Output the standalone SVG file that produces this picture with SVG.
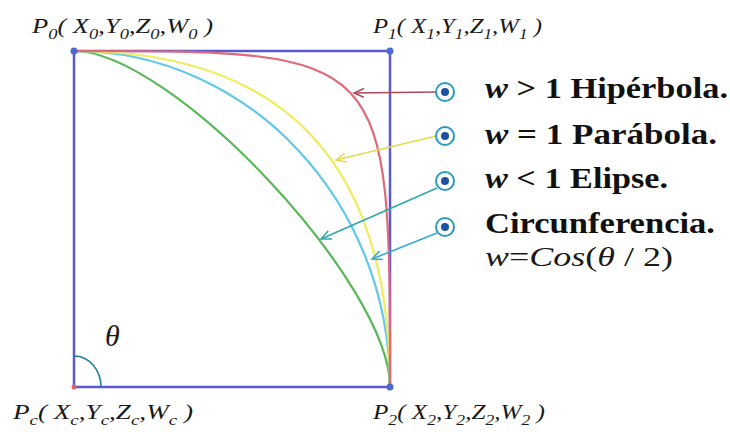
<svg xmlns="http://www.w3.org/2000/svg" width="730" height="432" viewBox="0 0 730 432">
<defs>
<style>
.lbl{font-family:"Liberation Serif","Times New Roman",serif;font-style:italic;font-size:20px;fill:#1a1a1a}
.sub{font-size:14px}
.leg{font-family:"Liberation Serif","Times New Roman",serif;font-weight:bold;font-size:30px;fill:#111}
.it{font-style:italic}
.frm{font-family:"Liberation Serif","Times New Roman",serif;font-size:28px;fill:#1a1a1a}
.curve{fill:none;stroke-width:2.2}
.conn{fill:none;stroke-width:1.6}
.ring{fill:#fff;stroke:#2a9bc0;stroke-width:2}
.dot{fill:#2050a0}
</style>
<marker id="mR" markerUnits="userSpaceOnUse" markerWidth="12" markerHeight="12" refX="10" refY="5" orient="auto"><path d="M0,0.5 L10,5 L0,9.5" fill="none" stroke="#b04858" stroke-width="1.5"/></marker>
<marker id="mY" markerUnits="userSpaceOnUse" markerWidth="12" markerHeight="12" refX="10" refY="5" orient="auto"><path d="M0,0.5 L10,5 L0,9.5" fill="none" stroke="#e0dc50" stroke-width="1.5"/></marker>
<marker id="mG" markerUnits="userSpaceOnUse" markerWidth="12" markerHeight="12" refX="10" refY="5" orient="auto"><path d="M0,0.5 L10,5 L0,9.5" fill="none" stroke="#30a8a8" stroke-width="1.5"/></marker>
<marker id="mC" markerUnits="userSpaceOnUse" markerWidth="12" markerHeight="12" refX="10" refY="5" orient="auto"><path d="M0,0.5 L10,5 L0,9.5" fill="none" stroke="#38a8d0" stroke-width="1.5"/></marker>
</defs>
<rect width="730" height="432" fill="#fff"/>

<g id="frame">
<rect x="74" y="51" width="316" height="336" fill="none" stroke="#5a5ad0" stroke-width="2.5"/>
<path d="M74,356 A27,31 0 0 1 101,387" fill="none" stroke="#2080a0" stroke-width="1.6"/>
<text x="105" y="346" font-family="'Liberation Serif','Times New Roman',serif" font-style="italic" font-size="30" fill="#1a1a1a">θ</text>
</g>

<g id="curves">
<path class="curve" stroke="#58b858" d="M74,51 C171.2,51 390,283.6 390,387"/>
<path class="curve" stroke="#60c8e8" d="M74,51 C248.5,51 390,201.4 390,387"/>
<path class="curve" stroke="#f0ec60" d="M74,51 Q390,51 390,387"/>
<path class="curve" stroke="#e06878" d="M74,51 C390,51 390,51 390,387"/>
</g>

<g id="P0">
<circle cx="74" cy="51" r="3.5" fill="#4a6ad0"/>
<text class="lbl" x="32" y="33" textLength="181" lengthAdjust="spacingAndGlyphs">P<tspan class="sub" dy="6">0</tspan><tspan dy="-6">( X</tspan><tspan class="sub" dy="6">0</tspan><tspan dy="-6">,Y</tspan><tspan class="sub" dy="6">0</tspan><tspan dy="-6">,Z</tspan><tspan class="sub" dy="6">0</tspan><tspan dy="-6">,W</tspan><tspan class="sub" dy="6">0</tspan><tspan dy="-6"> )</tspan></text>
</g>
<g id="P1">
<circle cx="390" cy="51" r="3.5" fill="#4a6ad0"/>
<text class="lbl" x="373" y="33" textLength="169" lengthAdjust="spacingAndGlyphs">P<tspan class="sub" dy="6">1</tspan><tspan dy="-6">( X</tspan><tspan class="sub" dy="6">1</tspan><tspan dy="-6">,Y</tspan><tspan class="sub" dy="6">1</tspan><tspan dy="-6">,Z</tspan><tspan class="sub" dy="6">1</tspan><tspan dy="-6">,W</tspan><tspan class="sub" dy="6">1</tspan><tspan dy="-6"> )</tspan></text>
</g>
<g id="Pc">
<circle cx="74" cy="387" r="2.5" fill="#e06070"/>
<text class="lbl" x="13" y="419" textLength="180" lengthAdjust="spacingAndGlyphs">P<tspan class="sub" dy="6">c</tspan><tspan dy="-6">( X</tspan><tspan class="sub" dy="6">c</tspan><tspan dy="-6">,Y</tspan><tspan class="sub" dy="6">c</tspan><tspan dy="-6">,Z</tspan><tspan class="sub" dy="6">c</tspan><tspan dy="-6">,W</tspan><tspan class="sub" dy="6">c</tspan><tspan dy="-6"> )</tspan></text>
</g>
<g id="P2">
<circle cx="390" cy="387" r="3.5" fill="#4a6ad0"/>
<text class="lbl" x="373" y="419" textLength="172" lengthAdjust="spacingAndGlyphs">P<tspan class="sub" dy="6">2</tspan><tspan dy="-6">( X</tspan><tspan class="sub" dy="6">2</tspan><tspan dy="-6">,Y</tspan><tspan class="sub" dy="6">2</tspan><tspan dy="-6">,Z</tspan><tspan class="sub" dy="6">2</tspan><tspan dy="-6">,W</tspan><tspan class="sub" dy="6">2</tspan><tspan dy="-6"> )</tspan></text>
</g>

<g id="connectors">
<path class="conn" stroke="#b04858" d="M436,92 L354,93" marker-end="url(#mR)"/>
<path class="conn" stroke="#e0dc50" d="M436,136 L336,160" marker-end="url(#mY)"/>
<path class="conn" stroke="#30a8a8" d="M437,188 L321,239" marker-end="url(#mG)"/>
<path class="conn" stroke="#38a8d0" d="M437,233 L372,259" marker-end="url(#mC)"/>
</g>

<g id="hiperbola">
<circle class="ring" cx="445" cy="92" r="9"/><circle class="dot" cx="445" cy="92" r="4"/>
<text class="leg" x="485" y="98" textLength="243" lengthAdjust="spacingAndGlyphs"><tspan class="it">w</tspan> &gt; 1 Hipérbola.</text>
</g>
<g id="parabola">
<circle class="ring" cx="445" cy="136" r="9"/><circle class="dot" cx="445" cy="136" r="4"/>
<text class="leg" x="485" y="144" textLength="232" lengthAdjust="spacingAndGlyphs"><tspan class="it">w</tspan> = 1 Parábola.</text>
</g>
<g id="elipse">
<circle class="ring" cx="445" cy="181" r="9"/><circle class="dot" cx="445" cy="181" r="4"/>
<text class="leg" x="485" y="188" textLength="183" lengthAdjust="spacingAndGlyphs"><tspan class="it">w</tspan> &lt; 1 Elipse.</text>
</g>
<g id="circunferencia">
<circle class="ring" cx="445" cy="227" r="9"/><circle class="dot" cx="445" cy="227" r="4"/>
<text class="leg" x="485" y="233" textLength="230" lengthAdjust="spacingAndGlyphs">Circunferencia.</text>
<text class="frm" x="485" y="266" textLength="188" lengthAdjust="spacingAndGlyphs"><tspan class="it">w</tspan>=<tspan class="it">Cos</tspan>(<tspan class="it">θ</tspan> / 2)</text>
</g>
</svg>
